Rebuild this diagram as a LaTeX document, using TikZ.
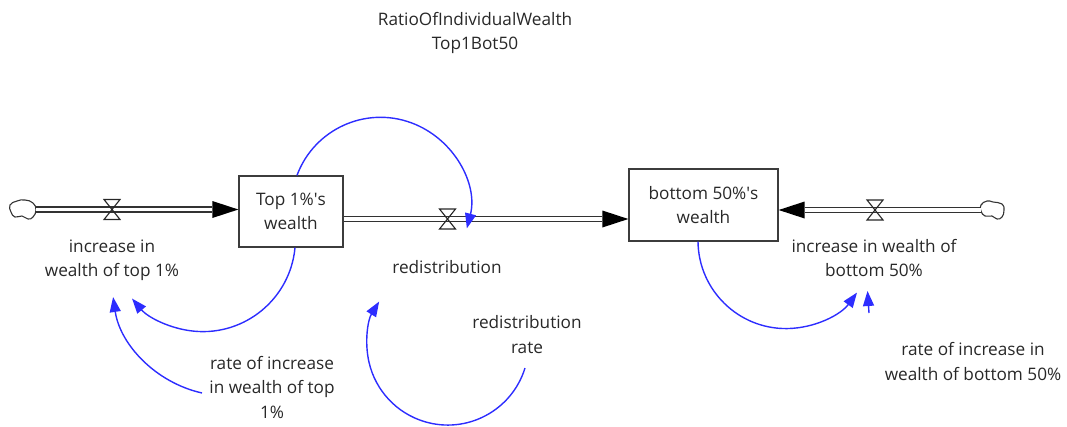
\documentclass[tikz,border=0pt]{standalone}
\usepackage{fontspec}
\setmainfont{Open Sans}
\usetikzlibrary{arrows.meta}
\definecolor{txt}{RGB}{40,40,40}
\definecolor{boxc}{RGB}{60,60,60}
\definecolor{pipec}{RGB}{50,50,50}
\definecolor{linkc}{RGB}{45,45,255}
\newcommand\lblfont{\fontsize{17.2}{24.5}\selectfont}
\begin{document}
\begin{tikzpicture}[x=1pt,y=1pt,
  lbl/.style={align=center, text=txt, font=\lblfont, inner sep=0pt},
  stock/.style={draw=boxc, line width=1.3pt, align=center, text=txt, font=\lblfont, inner sep=0pt},
  pipe/.style={draw=pipec, line width=1.5pt, double=white, double distance=3.4pt},
  head/.style={fill=black},
  link/.style={draw=linkc, line width=1.4pt, -{Triangle[length=15pt,width=11pt]}},
  valve/.pic={\draw[line width=1.1pt, draw=black!85] (-8,10) -- (8,10) -- (-8,-10) -- (8,-10) -- cycle;},
  cloud/.style={draw=black!80, line width=1.1pt}]
\useasboundingbox (0,0) rectangle (1067,-426);

% title
\node[lbl] (tit) at (475,-33) {RatioOfIndividualWealth\\Top1Bot50};

% stocks
\node[stock, minimum width=104pt, minimum height=71pt] (top) at (291,-211.5) {Top 1\%\textquotesingle s\\wealth};
\node[stock, minimum width=149pt, minimum height=72pt] (bot) at (703.5,-205) {bottom 50\%\textquotesingle s\\wealth};

% clouds
\draw[cloud] plot[smooth cycle, tension=0.8] coordinates {(10,-205) (17,-201) (25,-200) (33,-203) (36,-210) (33,-217) (28,-219) (22,-216) (15,-217) (11,-212)};
\draw[cloud] plot[smooth cycle, tension=0.8] coordinates {(981,-205) (987,-201) (993,-202) (1002,-204) (1004,-210) (1002,-217) (997,-219) (992,-216) (985,-216) (981,-211)};
\coordinate (cl) at (36,-209.5);
\coordinate (cr) at (981,-210);

% left flow
\coordinate (tipL) at (top.west |- cl);
\draw[pipe] (cl) -- ([xshift=-26pt]tipL);
\fill[head] (tipL) -- ++(-26,8.5) -- ++(0,-17) -- cycle;
\pic at (112,-209.5) {valve};

% middle flow
\coordinate (m0) at (top.east |- 0,-219);
\coordinate (tipM) at (bot.west |- 0,-219);
\draw[pipe] ([xshift=0.7pt]m0) -- ([xshift=-26pt]tipM);
\fill[head] (tipM) -- ++(-26,8.5) -- ++(0,-17) -- cycle;
\pic at (447.5,-219) {valve};

% right flow
\coordinate (tipR) at (bot.east |- cr);
\draw[pipe] (cr) -- ([xshift=26pt]tipR);
\fill[head] (tipR) -- ++(26,8.5) -- ++(0,-17) -- cycle;
\pic at (875,-210) {valve};

% labels
\node[lbl] (fL) at (112,-260) {increase in\\wealth of top 1\%};
\node[lbl] (fM) at (447,-267.5) {redistribution};
\node[lbl] (fR) at (874,-258) {increase in wealth of\\bottom 50\%};
\node[lbl] (rr) at (527,-334.5) {redistribution\\rate};
\node[lbl] (rT) at (272,-387) {rate of increase\\in wealth of top\\1\%};
\node[lbl] (rB) at (973,-361.5) {rate of increase in\\wealth of bottom 50\%};

% links
\coordinate (s3) at (202,-393);
\coordinate (s4) at (525,-368);
\draw[link] ([xshift=6pt]top.north) arc[start angle=159.6, end angle=-14.3, radius=89.1];
\draw[link] ([xshift=4pt]top.south) arc[start angle=-5.3, end angle=-140, radius=92.5];
\draw[link] (s3) arc[start angle=257.3, end angle=188.3, radius=115.5];
\draw[link] (s4) arc[start angle=-17.1, end angle=-211.9, radius=80.8];
\draw[link] ([xshift=-5.5pt]bot.south) arc[start angle=180.7, end angle=323.8, radius=88];
\coordinate (s6) at (869,-313);
\coordinate (e6) at (867.5,-291);
\draw[link] (s6) -- (e6);
\end{tikzpicture}
\end{document}
